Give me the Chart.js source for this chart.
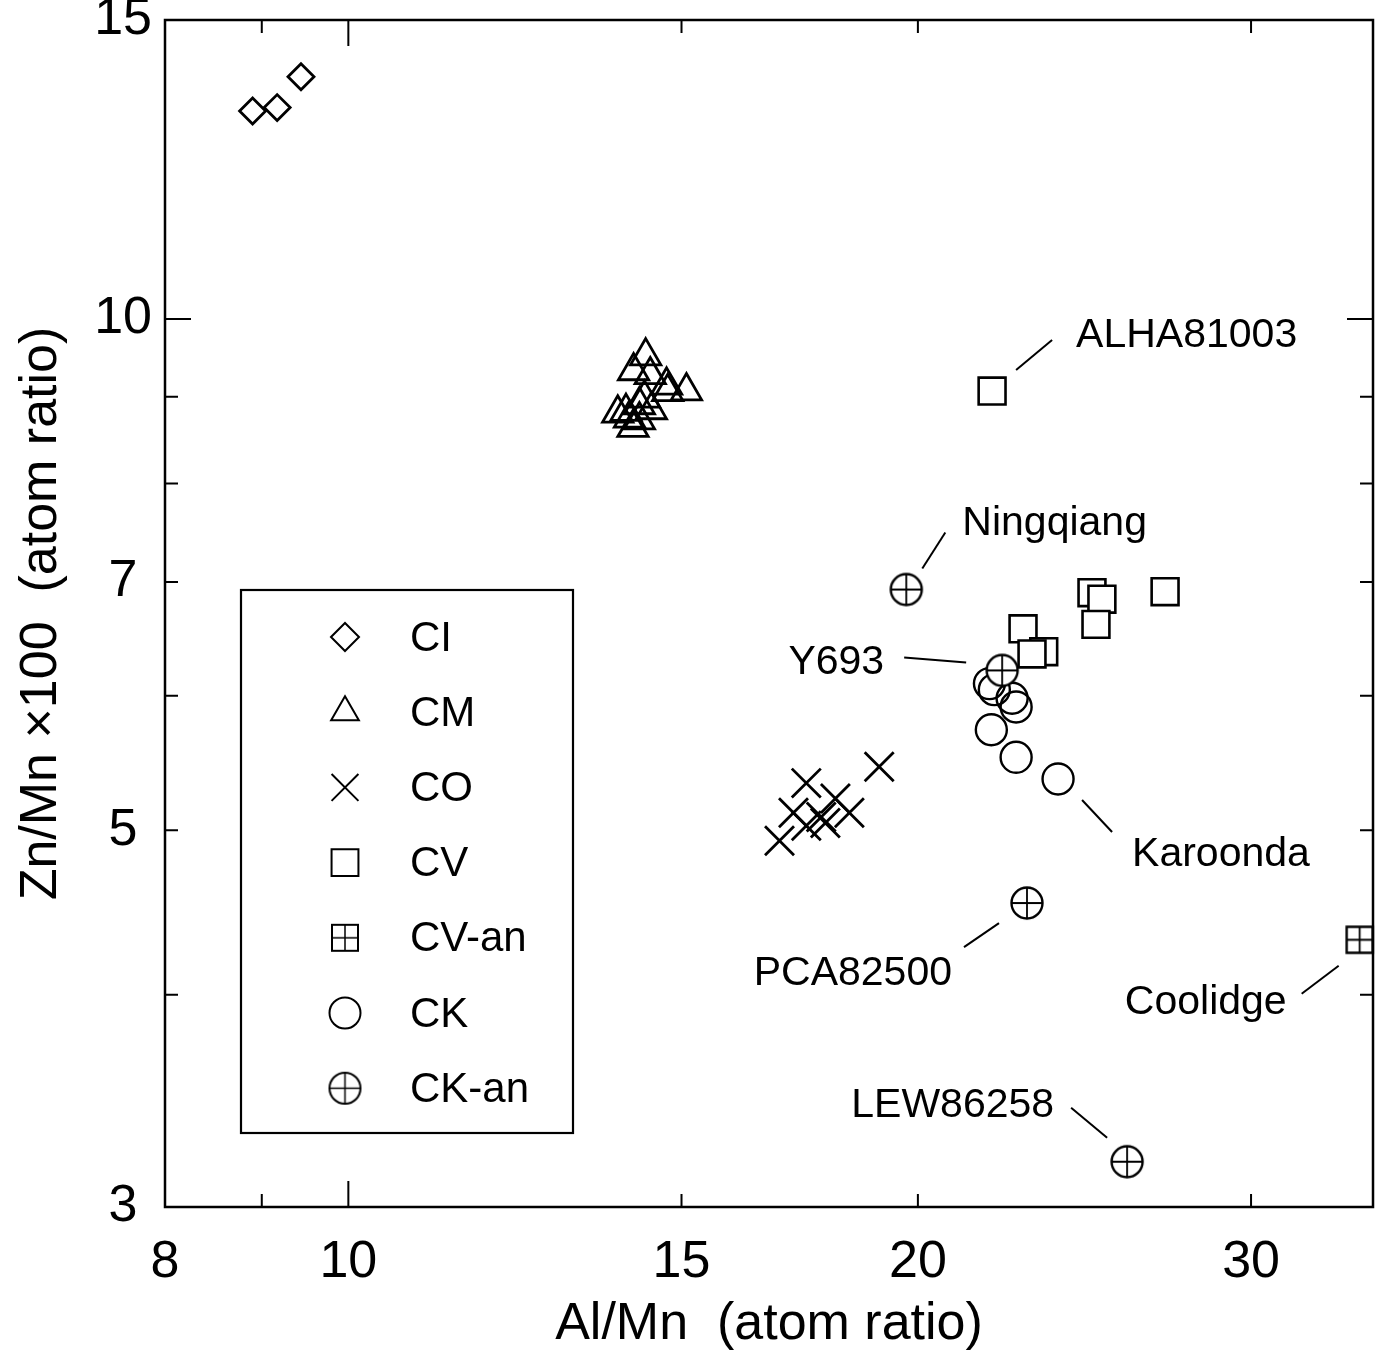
<!DOCTYPE html>
<html>
<head>
<meta charset="utf-8">
<script src="https://cdn.jsdelivr.net/npm/chart.js@4.4.1/dist/chart.umd.min.js"></script>
<style>
  html, body { margin: 0; padding: 0; background: #fff; }
  #wrap { width: 1390px; height: 1358px; }
</style>
</head>
<body>
<div id="wrap"><canvas id="chart" width="1390" height="1358"></canvas></div>
<script>
// Al/Mn vs Zn/Mn x100 (atom ratios)
const ciX = [8.90, 9.17, 9.44];
const ciY = [13.26, 13.32, 13.89];
const cmX = [14.36, 14.15, 14.44, 14.73, 15.09, 14.75, 14.25, 14.02, 13.88, 14.14, 14.25, 14.46, 14.08, 14.34];
const cmY = [9.51, 9.32, 9.27, 9.14, 9.07, 9.06, 8.90, 8.82, 8.80, 8.63, 8.72, 8.84, 8.74, 8.98];
const coX = [19.08, 17.46, 17.19, 18.09, 18.40, 17.46, 17.78, 17.87, 16.90];
const coY = [5.45, 5.33, 5.12, 5.22, 5.12, 5.03, 5.09, 5.05, 4.93];
const cvX = [21.89, 27.02, 24.72, 25.02, 24.84, 22.73, 23.31, 22.98];
const cvY = [9.07, 6.91, 6.90, 6.84, 6.61, 6.57, 6.37, 6.35];
const cvAnX = [34.24];
const cvAnY = [4.31];
const ckX = [21.82, 21.95, 22.43, 22.54, 21.87, 22.54, 23.72];
const ckY = [6.10, 6.05, 5.98, 5.91, 5.73, 5.52, 5.36];
const ckAnX = [19.72, 22.16, 22.84, 25.80];
const ckAnY = [6.93, 6.21, 4.53, 3.19];

const xTickLabels = [8, 10, 15, 20, 30];
const yTickLabels = [3, 5, 7, 10, 15];
const xInnerTicks = [9, 10, 15, 20, 30];
const yInnerTicks = [4, 5, 6, 7, 8, 9, 10];
const longTicks = [10];

const FONT = '"Liberation Sans", Arial, Helvetica, sans-serif';

// named samples: [label, series, index, line from/to offsets, text offset, align]
const callouts = [
  { text: 'ALHA81003', series: 'CV', i: 0, l: [24, -21, 60, -51], t: [84, -44], align: 'left' },
  { text: 'Ningqiang', series: 'CK-an', i: 0, l: [16, -21, 39, -57], t: [56, -55], align: 'left' },
  { text: 'Y693', series: 'CK-an', i: 1, l: [-98, -13, -36, -8], t: [-118, 4], align: 'right' },
  { text: 'Karoonda', series: 'CK', i: 6, l: [24, 21, 54, 53], t: [74, 87], align: 'left' },
  { text: 'PCA82500', series: 'CK-an', i: 2, l: [-63, 44, -28, 20], t: [-75, 82], align: 'right' },
  { text: 'Coolidge', series: 'CV-an', i: 0, l: [-58, 54, -21, 26], t: [-73, 74], align: 'right' },
  { text: 'LEW86258', series: 'CK-an', i: 3, l: [-56, -54, -20, -24], t: [-73, -45], align: 'right' }
];

function crossedSymbol(kind, half, lw) {
  const size = Math.ceil(2 * (half + lw));
  const c = document.createElement('canvas');
  c.width = size; c.height = size;
  const g = c.getContext('2d');
  const m = size / 2;
  g.fillStyle = '#fff';
  g.strokeStyle = '#000';
  g.lineWidth = lw;
  g.beginPath();
  if (kind === 'square') g.rect(m - half, m - half, 2 * half, 2 * half);
  else g.arc(m, m, half, 0, Math.PI * 2);
  g.fill();
  g.stroke();
  g.lineWidth = lw * 0.75;
  g.beginPath();
  g.moveTo(m - half, m); g.lineTo(m + half, m);
  g.moveTo(m, m - half); g.lineTo(m, m + half);
  g.stroke();
  return c;
}

const squarePlus = crossedSymbol('square', 13, 2.4);
const circlePlus = crossedSymbol('circle', 15.5, 2.4);
const squarePlusSmall = crossedSymbol('square', 13, 2);
const circlePlusSmall = crossedSymbol('circle', 15.5, 2);

function pts(xs, ys) { return xs.map((x, i) => ({ x: x, y: ys[i] })); }

function series(label, xs, ys, style, radius, fill, order, bw) {
  return {
    label: label,
    data: pts(xs, ys),
    pointStyle: style,
    pointRadius: radius,
    pointBorderWidth: bw || 2.8,
    pointBorderColor: '#000',
    pointBackgroundColor: fill ? '#fff' : 'rgba(0,0,0,0)',
    showLine: false,
    clip: false,
    order: order
  };
}

const datasets = [
  series('CI', ciX, ciY, 'rectRot', 13, false, 6),
  series('CM', cmX, cmY, 'triangle', 17.5, false, 5),
  series('CO', coX, coY, 'crossRot', 20.5, false, 4),
  series('CV', cvX, cvY, 'rect', 19, true, 3, 2.6),
  series('CV-an', cvAnX, cvAnY, squarePlus, 13, true, 0),
  series('CK', ckX, ckY, 'circle', 15.5, false, 2, 2.4),
  series('CK-an', ckAnX, ckAnY, circlePlus, 15.5, true, 1)
];

const legendRows = [
  { label: 'CI', style: 'rectRot', r: 14 },
  { label: 'CM', style: 'triangle', r: 16 },
  { label: 'CO', style: 'crossRot', r: 19 },
  { label: 'CV', style: 'rect', r: 19 },
  { label: 'CV-an', style: squarePlusSmall, r: 13 },
  { label: 'CK', style: 'circle', r: 15.5 },
  { label: 'CK-an', style: circlePlusSmall, r: 15.5 }
];

const framePlugin = {
  id: 'frame',
  afterDraw(chart) {
    const { ctx, chartArea: a } = chart;
    const xs = chart.scales.x, ys = chart.scales.y;
    ctx.save();
    ctx.strokeStyle = '#000';
    ctx.lineWidth = 2.5;
    ctx.strokeRect(a.left, a.top, a.right - a.left, a.bottom - a.top);
    ctx.lineWidth = 2;
    ctx.beginPath();
    xInnerTicks.forEach(v => {
      const p = xs.getPixelForValue(v);
      const len = longTicks.includes(v) ? 26 : 13;
      ctx.moveTo(p, a.bottom); ctx.lineTo(p, a.bottom - len);
      ctx.moveTo(p, a.top); ctx.lineTo(p, a.top + len);
    });
    yInnerTicks.forEach(v => {
      const p = ys.getPixelForValue(v);
      const len = longTicks.includes(v) ? 26 : 13;
      ctx.moveTo(a.left, p); ctx.lineTo(a.left + len, p);
      ctx.moveTo(a.right, p); ctx.lineTo(a.right - len, p);
    });
    ctx.stroke();
    ctx.restore();
  }
};

const calloutPlugin = {
  id: 'callouts',
  afterDatasetsDraw(chart) {
    const { ctx } = chart;
    ctx.save();
    ctx.strokeStyle = '#000';
    ctx.fillStyle = '#000';
    ctx.lineWidth = 2;
    ctx.font = '41px ' + FONT;
    ctx.textBaseline = 'alphabetic';
    callouts.forEach(c => {
      const di = chart.data.datasets.findIndex(d => d.label === c.series);
      const el = chart.getDatasetMeta(di).data[c.i];
      const x = el.x, y = el.y;
      ctx.beginPath();
      ctx.moveTo(x + c.l[0], y + c.l[1]);
      ctx.lineTo(x + c.l[2], y + c.l[3]);
      ctx.stroke();
      ctx.textAlign = c.align;
      ctx.fillText(c.text, x + c.t[0], y + c.t[1]);
    });
    ctx.restore();
  }
};

const legendPlugin = {
  id: 'boxLegend',
  afterDraw(chart) {
    const { ctx } = chart;
    const box = { left: 241, top: 590, right: 573, bottom: 1133 };
    ctx.save();
    ctx.fillStyle = '#fff';
    ctx.fillRect(box.left, box.top, box.right - box.left, box.bottom - box.top);
    ctx.strokeStyle = '#000';
    ctx.lineWidth = 2.2;
    ctx.strokeRect(box.left, box.top, box.right - box.left, box.bottom - box.top);
    ctx.font = '42px ' + FONT;
    ctx.textAlign = 'left';
    ctx.textBaseline = 'middle';
    legendRows.forEach((row, k) => {
      const cy = 637 + k * 75.2;
      ctx.fillStyle = 'rgba(0,0,0,0)';
      ctx.strokeStyle = '#000';
      ctx.lineWidth = 2;
      Chart.helpers.drawPoint(ctx, { pointStyle: row.style, radius: row.r, rotation: 0, borderWidth: 2 }, 345, cy);
      ctx.fillStyle = '#000';
      ctx.fillText(row.label, 410, cy + 2);
    });
    ctx.restore();
  }
};

new Chart(document.getElementById('chart'), {
  type: 'scatter',
  data: { datasets: datasets },
  plugins: [framePlugin, calloutPlugin, legendPlugin],
  options: {
    responsive: false,
    devicePixelRatio: 1,
    animation: false,
    events: [],
    layout: { autoPadding: false, padding: { top: 20, right: 17, left: 0, bottom: 0 } },
    plugins: { legend: { display: false }, tooltip: { enabled: false } },
    scales: {
      x: {
        type: 'logarithmic',
        min: 8,
        max: 34.8,
        afterBuildTicks: s => { s.ticks = xTickLabels.map(v => ({ value: v })); },
        afterFit: s => { s.height = 151; s.paddingLeft = 0; s.paddingRight = 0; },
        grid: { display: false, drawTicks: false, tickLength: 0 },
        border: { display: false },
        ticks: {
          autoSkip: false, maxRotation: 0, padding: 24, color: '#000',
          font: { family: FONT, size: 52 },
          callback: v => String(v)
        },
        title: {
          display: true, text: 'Al/Mn  (atom ratio)', color: '#000',
          font: { family: FONT, size: 52 },
          padding: { top: 0, bottom: 2 }
        }
      },
      y: {
        type: 'logarithmic',
        min: 3,
        max: 15,
        afterBuildTicks: s => { s.ticks = yTickLabels.map(v => ({ value: v })); },
        afterFit: s => { s.width = 165; s.paddingTop = 0; s.paddingBottom = 0; },
        grid: { display: false, drawTicks: false, tickLength: 0 },
        border: { display: false },
        ticks: {
          autoSkip: false, padding: 13, crossAlign: 'center', color: '#000',
          font: { family: FONT, size: 52 },
          callback: v => String(v)
        },
        title: {
          display: true, text: 'Zn/Mn \u00d7100  (atom ratio)', color: '#000',
          font: { family: FONT, size: 52 },
          padding: { top: 10, bottom: 0 }
        }
      }
    }
  }
});
</script>
</body>
</html>
